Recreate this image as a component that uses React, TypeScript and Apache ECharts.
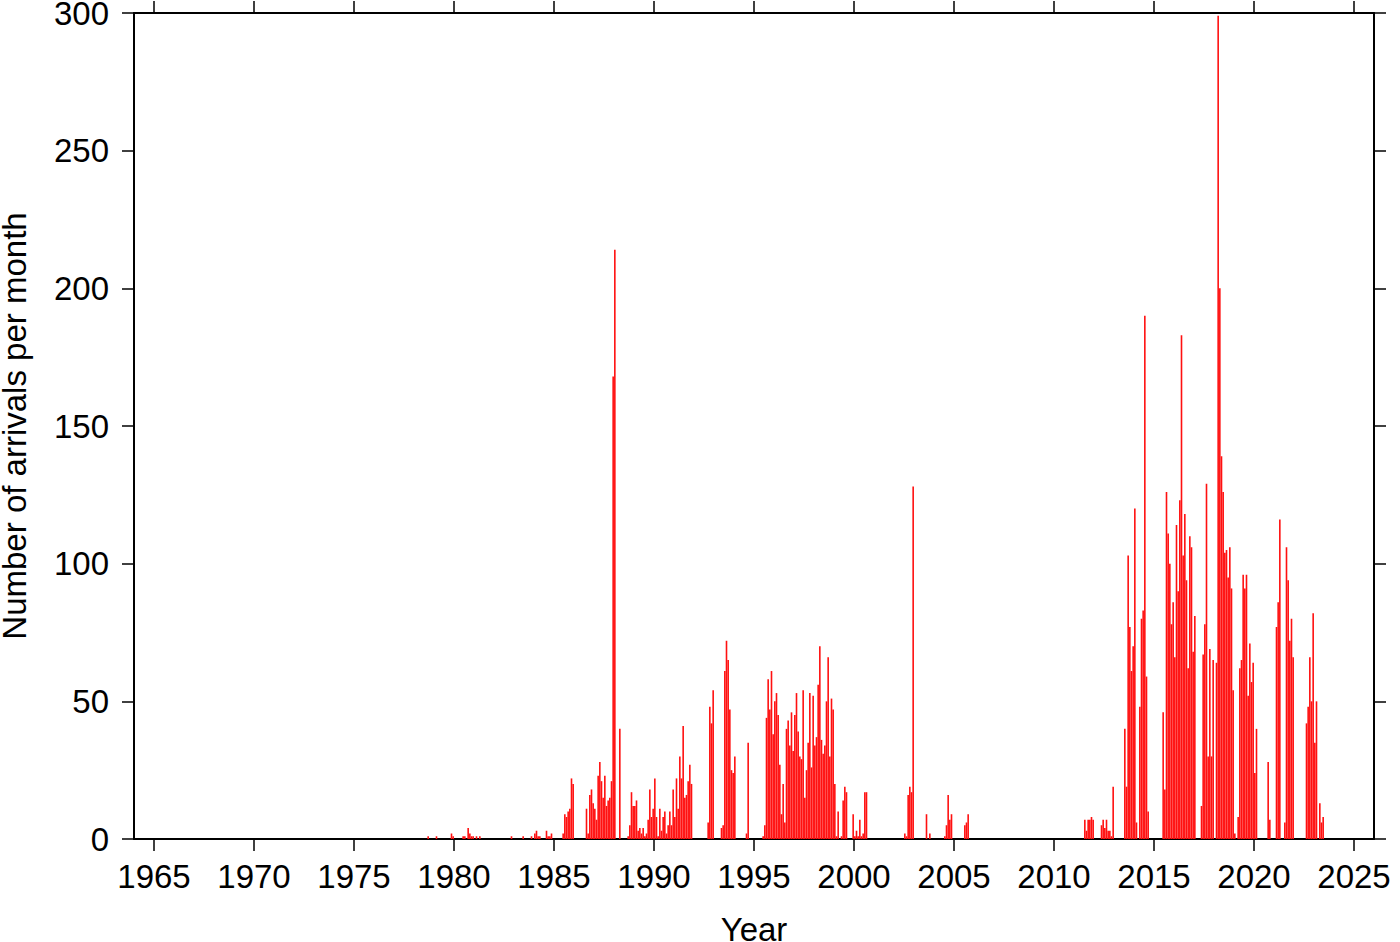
import React, { useEffect, useRef } from "react";
import * as echarts from "echarts";

// ---- Data: number of arrivals per month ----
const xTickYears = [1965, 1970, 1975, 1980, 1985, 1990, 1995, 2000, 2005, 2010, 2015, 2020, 2025];

// isolated months (1978 - 1984)
const sparseMonths: [string, number][] = [
  ["1978-09", 1], ["1979-02", 1], ["1979-11", 2], ["1979-12", 1],
  ["1980-06", 1], ["1980-07", 1], ["1980-09", 4], ["1980-10", 2], ["1980-11", 1], ["1980-12", 1],
  ["1981-02", 1], ["1981-04", 1], ["1982-11", 1], ["1983-06", 1], ["1983-11", 1],
  ["1984-01", 2], ["1984-02", 3], ["1984-03", 1], ["1984-04", 1],
  ["1984-08", 3], ["1984-09", 1], ["1984-10", 1], ["1984-11", 2],
];

// consecutive monthly runs (first month, counts)
const counts1985 = [2, 9, 8, 10, 11, 22, 20];
const counts1986 = [11, 2, 16, 18, 13, 11, 7, 23, 28, 21, 15, 23, 12, 14, 15, 21, 168, 214, 0, 0, 40];
const counts1988 = [1, 5, 17, 12, 12, 14, 3, 4, 2, 4, 1, 2, 7, 18, 8, 11, 22, 8, 1, 11,
  3, 8, 10, 2, 5, 10, 5, 18, 8, 22, 11, 30, 22, 41, 15, 16, 21, 27, 20];
const counts1992 = [6, 48, 42, 54];
const counts1993 = [4, 5, 61, 72, 65, 47, 25, 24, 30];
const counts1994 = [2, 35];
const counts1995 = [1, 5, 44, 58, 47, 61, 38, 50, 53, 45, 27, 9, 20, 6, 40, 43, 34, 46, 32, 45,
  53, 39, 30, 29, 54, 15, 25, 35, 53, 26, 52, 34, 37, 56, 70, 36, 31, 34, 50, 66,
  30, 51, 47, 20, 1, 10, 0, 1, 14, 19, 17];
const counts1999 = [9, 1, 3, 1, 7, 1, 2, 17, 17];
const counts2002 = [2, 1, 16, 19, 17, 128];
const counts2003 = [9, 0, 2];
const counts2004 = [1, 5, 16, 7, 9];
const counts2005 = [5, 6, 9];
const counts2011 = [7, 3, 7, 7, 8, 7];
const counts2012 = [5, 7, 4, 7, 3, 3, 1, 19];
const counts2013 = [40, 19, 103, 77, 61, 70, 120, 6, 0, 48, 80, 83, 190, 59, 10];
const counts2015 = [46, 18, 126, 111, 100, 78, 86, 66, 114, 90, 123, 183, 103, 118, 94, 62, 110, 106, 68, 81];
const counts2017 = [12, 67, 78, 129, 30, 69, 30, 65, 0, 64, 299, 200, 139, 126, 104, 105, 95, 106, 91, 54,
  2, 0, 8, 62, 65, 96, 91, 96, 52, 71, 57, 64, 24, 40];
const counts2020 = [28, 7];
const counts2021 = [77, 86, 116, 0, 0, 6, 106, 94, 72, 80, 66];
const counts2022 = [42, 48, 66, 50, 82, 35, 50, 0, 13, 6, 8];

const runs: [string, number[]][] = [
  ["1985-06", counts1985], ["1986-08", counts1986], ["1988-09", counts1988],
  ["1992-09", counts1992], ["1993-05", counts1993], ["1994-08", counts1994],
  ["1995-06", counts1995], ["1999-12", counts1999], ["2002-07", counts2002],
  ["2003-08", counts2003], ["2004-07", counts2004], ["2005-07", counts2005],
  ["2011-07", counts2011], ["2012-05", counts2012], ["2013-07", counts2013],
  ["2015-06", counts2015], ["2017-05", counts2017], ["2020-09", counts2020],
  ["2021-02", counts2021], ["2022-08", counts2022],
];

function monthToX(ym: string, offset: number): number {
  const [y, m] = ym.split("-").map(Number);
  return y + (m - 1 + offset + 0.5) / 12;
}

function buildData(): [number, number][] {
  const out: [number, number][] = [];
  sparseMonths.forEach(([ym, v]) => {
    if (v > 0) out.push([monthToX(ym, 0), v]);
  });
  runs.forEach(([start, counts]) => {
    counts.forEach((v, i) => {
      if (v > 0) out.push([monthToX(start, i), v]);
    });
  });
  return out;
}

const FONT = '"Liberation Sans", Arial, Helvetica, sans-serif';

export default function App() {
  const ref = useRef<HTMLDivElement>(null);

  useEffect(() => {
    document.body.style.margin = "0";
    if (!ref.current) return;
    const chart = echarts.init(ref.current, null, { renderer: "svg" });
    const axisLine = { show: true, lineStyle: { color: "#000", width: 2 } };
    const tickStyle = { color: "#000", width: 1.5 };
    chart.setOption({
      animation: false,
      backgroundColor: "#fff",
      grid: {
        left: 134,
        right: 26,
        top: 13,
        bottom: 103,
        containLabel: false,
        outerBoundsMode: "none",
      },
      xAxis: [
        {
          type: "value",
          min: 1964,
          max: 2026,
          position: "bottom",
          axisLine: { ...axisLine, onZero: false },
          axisTick: { show: true, inside: false, length: 12, lineStyle: tickStyle, customValues: xTickYears },
          axisLabel: {
            show: true,
            margin: 21,
            fontSize: 33,
            fontFamily: FONT,
            color: "#000",
            customValues: xTickYears,
            formatter: (v: number) => String(v),
          },
          splitLine: { show: false },
          name: "Year",
          nameLocation: "middle",
          nameGap: 74,
          nameTextStyle: { fontSize: 33, fontFamily: FONT, color: "#000" },
        },
        {
          type: "value",
          min: 1964,
          max: 2026,
          position: "top",
          axisLine: { ...axisLine, onZero: false },
          axisTick: { show: true, inside: false, length: 12, lineStyle: tickStyle, customValues: xTickYears },
          axisLabel: { show: false },
          splitLine: { show: false },
        },
      ],
      yAxis: [
        {
          type: "value",
          min: 0,
          max: 300,
          interval: 50,
          position: "left",
          axisLine: { ...axisLine, onZero: false },
          axisTick: { show: true, inside: false, length: 12, lineStyle: tickStyle },
          axisLabel: { margin: 25, fontSize: 33, fontFamily: FONT, color: "#000" },
          splitLine: { show: false },
          name: "Number of arrivals per month",
          nameLocation: "middle",
          nameGap: 103,
          nameTextStyle: { fontSize: 33, fontFamily: FONT, color: "#000" },
        },
        {
          type: "value",
          min: 0,
          max: 300,
          interval: 50,
          position: "right",
          axisLine: { ...axisLine, onZero: false },
          axisTick: { show: true, inside: false, length: 12, lineStyle: tickStyle },
          axisLabel: { show: false },
          splitLine: { show: false },
        },
      ],
      series: [
        {
          type: "bar",
          xAxisIndex: 0,
          yAxisIndex: 0,
          data: buildData(),
          barWidth: 1.6,
          itemStyle: { color: "#ff1010" },
        },
      ],
    });
    return () => chart.dispose();
  }, []);

  return (
    <div
      ref={ref}
      style={{ position: "absolute", left: 0, top: 0, width: 1400, height: 942 }}
    />
  );
}
